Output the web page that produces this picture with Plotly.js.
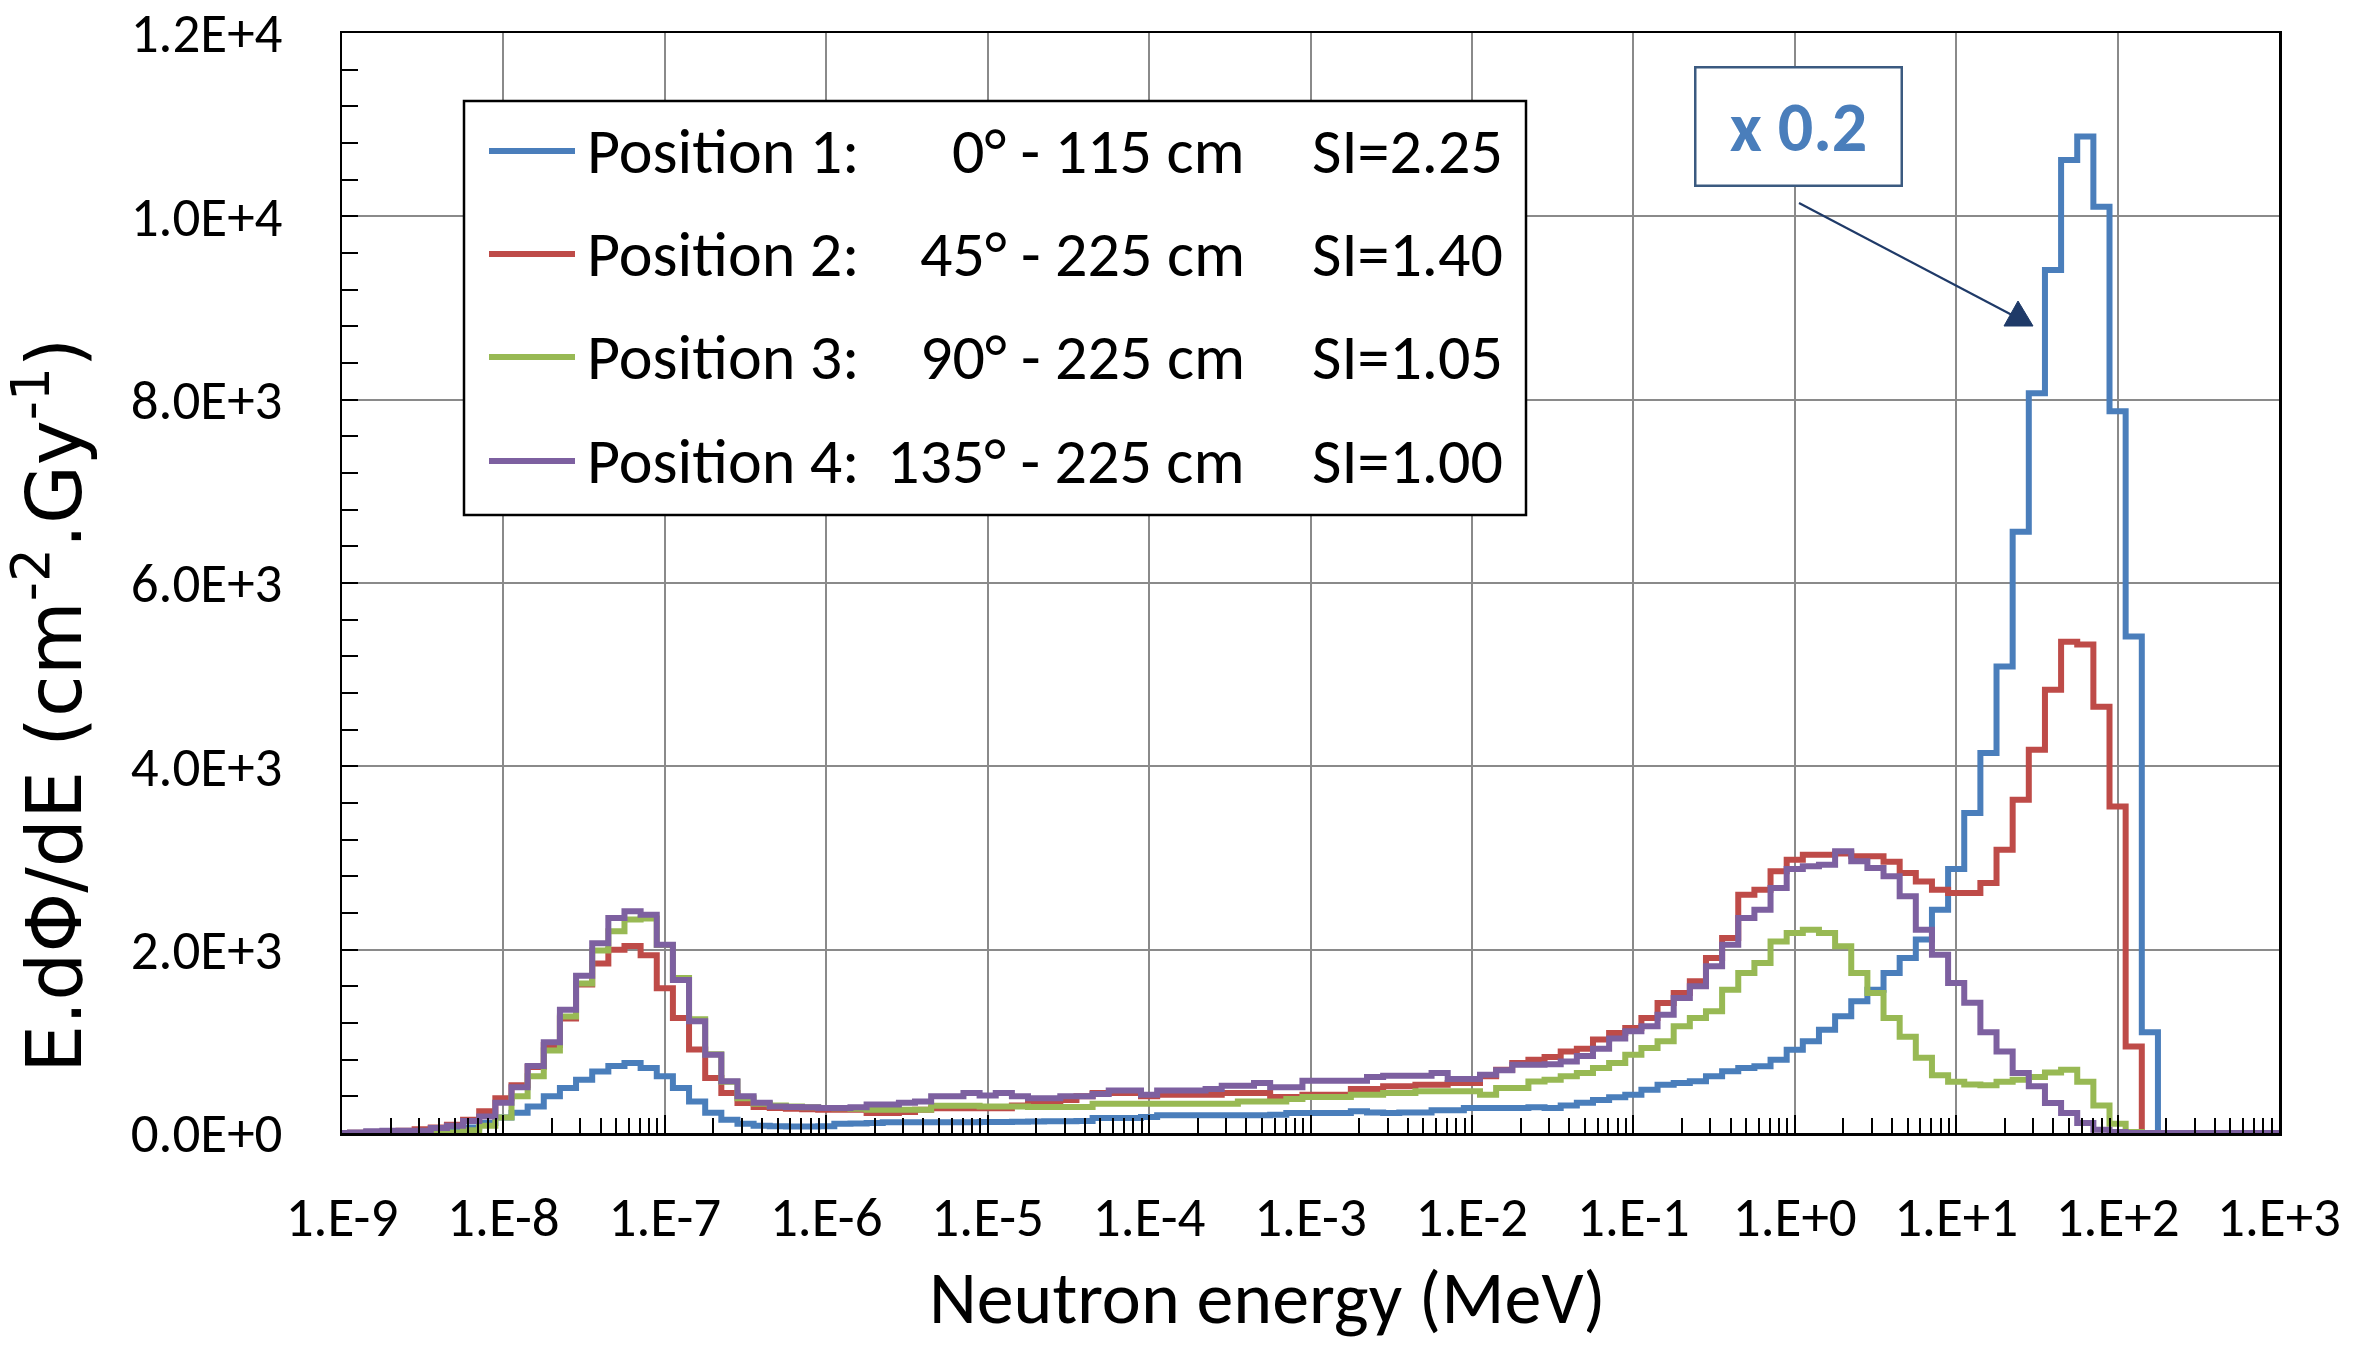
<!DOCTYPE html>
<html>
<head>
<meta charset="utf-8">
<script src="https://cdn.plot.ly/plotly-3.0.1.min.js"></script>
<style>
  html, body { margin: 0; padding: 0; background: #fff; }
  #graph { width: 2362px; height: 1352px; }
</style>
</head>
<body>
<div id="graph"></div>
<script>
// histogram bins: 10 per decade, first bin centred on 1E-9 MeV
const firstBinExp = -9
const binsPerDecade = 10

// E.dPhi/dE per bin, one row per decade (1E-9 ... 1E+2), last row = bin at 1E+3
const pos1 = [
    0, 0, 0, 0, 2, 5, 10, 30, 60, 110,
    170, 220, 290, 400, 490, 580, 670, 730, 765, 710,
    620, 490, 345, 220, 145, 100, 80, 75, 72, 72,
    73, 100, 105, 110, 116, 116, 116, 116, 116, 118,
    120, 120, 122, 125, 127, 127, 130, 164, 164, 164,
    175, 193, 193, 193, 193, 193, 193, 195, 200, 218,
    218, 218, 218, 236, 225, 218, 225, 225, 247, 247,
    273, 273, 273, 273, 280, 273, 300, 330, 360, 390,
    418, 473, 527, 545, 564, 618, 673, 710, 727, 800,
    909, 1000, 1127, 1273, 1436, 1564, 1745, 1909, 2110, 2436,
    2880, 3490, 4145, 5090, 6560, 8070, 9415, 10615, 10870, 10105,
    7873, 5416, 1100, 0, 0, 0, 0, 0, 0, 0,
    0
]
const pos2 = [
    0, 2, 8, 15, 25, 40, 60, 90, 145, 236,
    380, 520, 720, 960, 1250, 1620, 1850, 2000, 2040, 1940,
    1580, 1255, 910, 600, 436, 327, 285, 273, 265, 260,
    255, 255, 255, 218, 218, 230, 255, 270, 270, 270,
    270, 270, 300, 327, 327, 360, 400, 436, 436, 436,
    400, 418, 418, 418, 418, 436, 436, 436, 393, 393,
    418, 418, 418, 480, 480, 509, 509, 527, 527, 545,
    545, 618, 690, 764, 800, 830, 890, 920, 1020, 1090,
    1145, 1255, 1418, 1527, 1655, 1909, 2127, 2600, 2655, 2855,
    2982, 3036, 3036, 3050, 3018, 3018, 2960, 2836, 2745, 2655,
    2618, 2618, 2727, 3090, 3635, 4180, 4835, 5358, 5330, 4650,
    3562, 945, 0, 0, 0, 0, 0, 0, 0, 0,
    0
]
const pos3 = [
    0, 0, 0, 0, 0, 0, 0, 5, 30, 80,
    170, 400, 620, 900, 1270, 1630, 1990, 2200, 2330, 2340,
    2050, 1690, 1240, 860, 560, 380, 320, 300, 290, 280,
    273, 270, 265, 255, 255, 255, 255, 298, 298, 298,
    290, 290, 290, 284, 284, 284, 284, 320, 320, 320,
    320, 320, 320, 320, 320, 320, 345, 345, 345, 370,
    393, 393, 393, 418, 418, 436, 436, 455, 455, 455,
    455, 418, 490, 490, 563, 582, 618, 655, 709, 764,
    855, 927, 1000, 1164, 1255, 1327, 1564, 1745, 1855, 2090,
    2182, 2218, 2182, 2036, 1745, 1527, 1255, 1050, 820, 630,
    560, 530, 520, 560, 580, 610, 660, 690, 560, 300,
    100, 10, 0, 0, 0, 0, 0, 0, 0, 0,
    0
]
const pos4 = [
    0, 5, 20, 25, 25, 25, 55, 80, 130, 180,
    330, 500, 730, 990, 1345, 1716, 2070, 2345, 2420, 2380,
    2055, 1670, 1220, 855, 565, 400, 330, 290, 285, 280,
    273, 273, 280, 310, 310, 330, 345, 400, 400, 436,
    410, 436, 400, 380, 380, 400, 400, 425, 465, 465,
    418, 465, 465, 465, 480, 516, 516, 545, 500, 500,
    570, 570, 570, 570, 610, 625, 625, 625, 655, 590,
    590, 636, 684, 745, 745, 750, 780, 840, 920, 1030,
    1110, 1164, 1290, 1473, 1600, 1818, 2055, 2345, 2436, 2673,
    2880, 2909, 2927, 3073, 2964, 2890, 2800, 2582, 2218, 1945,
    1636, 1420, 1100, 890, 654, 509, 327, 218, 109, 36,
    10, 0, 0, 0, 0, 0, 0, 0, 0, 0,
    0
]

const legendNames = ['Position 1:', 'Position 2:', 'Position 3:', 'Position 4:']
const legendPlace = ['0° - 115 cm', '45° - 225 cm', '90° - 225 cm', '135° - 225 cm']
const legendSI = ['SI=2.25', 'SI=1.40', 'SI=1.05', 'SI=1.00']

const xTickVals = [1e-9, 1e-8, 1e-7, 1e-6, 1e-5, 1e-4, 1e-3, 1e-2, 1e-1, 1, 1e1, 1e2, 1e3]
const xTickText = ['1.E-9', '1.E-8', '1.E-7', '1.E-6', '1.E-5', '1.E-4', '1.E-3',
    '1.E-2', '1.E-1', '1.E+0', '1.E+1', '1.E+2', '1.E+3']
const yTickVals = [0, 2000, 4000, 6000, 8000, 10000, 12000]
const yTickText = ['0.0E+0', '2.0E+3', '4.0E+3', '6.0E+3', '8.0E+3', '1.0E+4', '1.2E+4']

const colors = ['#4A7EBB', '#BE4B48', '#98B954', '#7D60A0']
const calibri = 'Carlito, Calibri, Lato, sans-serif'

// plot area in page pixels
const plotL = 342, plotR = 2279, plotT = 33, plotB = 1133
function px(X) { return (X - plotL) / (plotR - plotL) }
function py(Y) { return (plotB - Y) / (plotB - plotT) }

function stepTrace(values, name, color) {
    // left edges of every bin plus the right edge of the last one
    let x = []
    for (let i = 0; i <= values.length; i++) {
        x.push(Math.pow(10, firstBinExp - 0.5 / binsPerDecade + i / binsPerDecade))
    }
    let y = values.concat([values[values.length - 1]])
    return {
        type: 'scatter',
        mode: 'lines',
        name: name,
        x: x,
        y: y,
        line: {shape: 'hv', color: color, width: 6},
        hoverinfo: 'skip'
    }
}

let xMinor = []
for (let d = -9; d < 3; d++) {
    for (let m = 2; m <= 9; m++) xMinor.push(m * Math.pow(10, d))
}
let yMinor = []
for (let v = 400; v < 12000; v += 400) {
    if (v % 2000 !== 0) yMinor.push(v)
}

let data = [
    stepTrace(pos1, legendNames[0], colors[0]),
    stepTrace(pos2, legendNames[1], colors[1]),
    stepTrace(pos3, legendNames[2], colors[2]),
    stepTrace(pos4, legendNames[3], colors[3])
]

// hand-made legend: box, line samples and three text columns
const rowY = [151, 254, 357, 461]
let shapes = [{
    type: 'rect', xref: 'paper', yref: 'paper',
    x0: px(464), x1: px(1526), y0: py(515), y1: py(101),
    line: {color: '#000', width: 2.5}, fillcolor: '#fff', layer: 'above'
}]
let annotations = []
for (let i = 0; i < 4; i++) {
    shapes.push({
        type: 'line', xref: 'paper', yref: 'paper',
        x0: px(489), x1: px(575), y0: py(rowY[i]), y1: py(rowY[i]),
        line: {color: colors[i], width: 6}, layer: 'above'
    })
    annotations.push({
        xref: 'paper', yref: 'paper', x: px(585), y: py(rowY[i]),
        xanchor: 'left', yanchor: 'middle', showarrow: false,
        text: legendNames[i], font: {family: calibri, size: 64, color: '#000'}
    })
    annotations.push({
        xref: 'paper', yref: 'paper', x: px(1247), y: py(rowY[i]),
        xanchor: 'right', yanchor: 'middle', showarrow: false,
        text: legendPlace[i], font: {family: calibri, size: 64, color: '#000'}
    })
    annotations.push({
        xref: 'paper', yref: 'paper', x: px(1505), y: py(rowY[i]),
        xanchor: 'right', yanchor: 'middle', showarrow: false,
        text: legendSI[i], font: {family: calibri, size: 64, color: '#000'}
    })
}

// scale note for position 1, with its pointer (line + filled head)
annotations.push({
    xref: 'paper', yref: 'paper', x: px(1798), y: py(126),
    xanchor: 'center', yanchor: 'middle', showarrow: false,
    text: '<b>x 0.2</b>', font: {family: calibri, size: 70, color: '#4A7EBB'},
    width: 200, height: 112, borderpad: 2, borderwidth: 2.5,
    bordercolor: '#3B5A80', bgcolor: '#fff'
})
const arrowColor = '#1F3A68'
shapes.push({
    type: 'line', xref: 'paper', yref: 'paper',
    x0: px(1799), y0: py(203), x1: px(2012), y1: py(315),
    line: {color: arrowColor, width: 2.2}, layer: 'above'
})
shapes.push({
    type: 'path', xref: 'paper', yref: 'paper',
    path: 'M ' + px(2033) + ' ' + py(326) +
        ' L ' + px(2004) + ' ' + py(326) +
        ' L ' + px(2018) + ' ' + py(301) + ' Z',
    line: {color: arrowColor, width: 1}, fillcolor: arrowColor, layer: 'above'
})

// axis titles, placed where the original has them
annotations.push({
    xref: 'paper', yref: 'paper', x: px(50), y: py(705),
    xanchor: 'center', yanchor: 'middle', showarrow: false, textangle: -90,
    text: 'E.dΦ/dE (cm<sup>-2</sup>.Gy<sup>-1</sup>)',
    font: {family: 'DejaVu Sans, Verdana, sans-serif', size: 76, color: '#000'}
})
annotations.push({
    xref: 'paper', yref: 'paper', x: px(1267), y: py(1298),
    xanchor: 'center', yanchor: 'middle', showarrow: false,
    text: 'Neutron energy (MeV)',
    font: {family: calibri, size: 74, color: '#000'}
})

let layout = {
    width: 2362,
    height: 1352,
    margin: {l: plotL, r: 2362 - plotR, t: plotT, b: 1352 - plotB},
    paper_bgcolor: '#fff',
    plot_bgcolor: '#fff',
    showlegend: false,
    font: {family: calibri, color: '#000'},
    xaxis: {
        type: 'log',
        range: [-9, 3],
        tickmode: 'array',
        tickvals: xTickVals,
        ticktext: xTickText,
        tickfont: {family: calibri, size: 55, color: '#000'},
        ticks: 'inside',
        ticklen: 18,
        tickwidth: 2,
        tickcolor: '#000',
        ticklabelstandoff: 34,
        showgrid: true,
        gridcolor: '#8a8a8a',
        gridwidth: 2,
        zeroline: false,
        showline: true,
        mirror: true,
        linecolor: '#000',
        linewidth: 2.5,
        minor: {
            tickmode: 'array',
            tickvals: xMinor,
            ticks: 'inside',
            ticklen: 15,
            tickwidth: 2,
            tickcolor: '#000',
            showgrid: false
        }
    },
    yaxis: {
        range: [0, 12000],
        tickmode: 'array',
        tickvals: yTickVals,
        ticktext: yTickText,
        tickfont: {family: calibri, size: 55, color: '#000'},
        ticks: 'inside',
        ticklen: 16,
        tickwidth: 2,
        tickcolor: '#000',
        ticklabelstandoff: 46,
        showgrid: true,
        gridcolor: '#8a8a8a',
        gridwidth: 2,
        zeroline: false,
        showline: true,
        mirror: true,
        linecolor: '#000',
        linewidth: 2.5,
        minor: {
            tickmode: 'array',
            tickvals: yMinor,
            ticks: 'inside',
            ticklen: 16,
            tickwidth: 2,
            tickcolor: '#000',
            showgrid: false
        }
    },
    shapes: shapes,
    annotations: annotations
}

Plotly.newPlot('graph', data, layout, {staticPlot: true})
</script>
</body>
</html>
